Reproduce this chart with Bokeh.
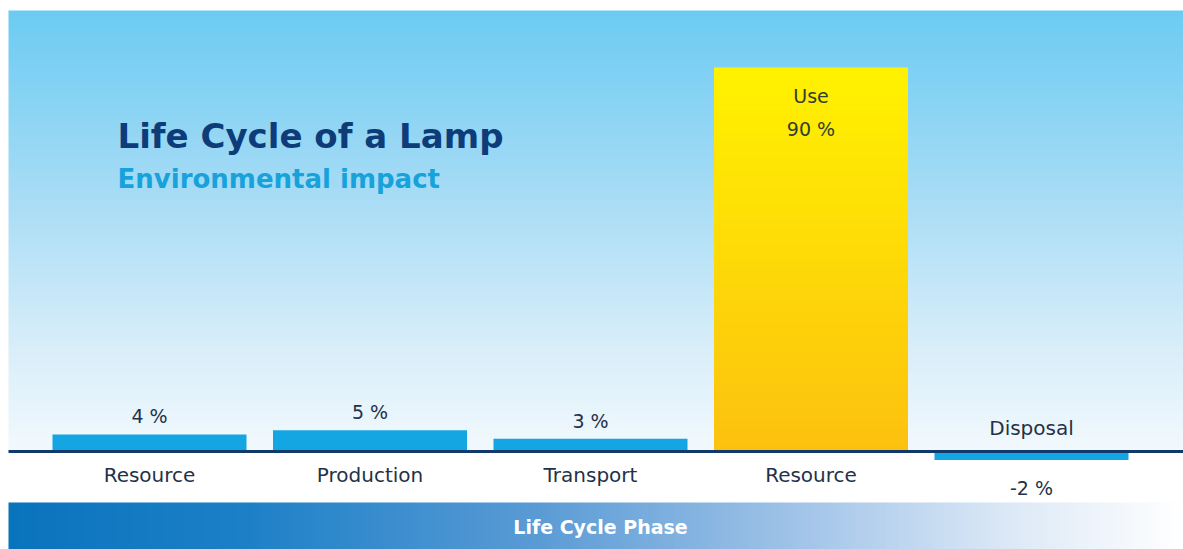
import numpy as np
from bokeh.plotting import figure
from bokeh.models import Label, Range1d
from bokeh.core.properties import value
from bokeh.embed import file_html
from bokeh.resources import INLINE

# ---- data ----
phases = ["Resource", "Production", "Transport", "Use", "Disposal"]
values = [4, 5, 3, 90, -2]
axis_labels = ["Resource", "Production", "Transport", "Resource", "Disposal"]
title_text = "Life Cycle of a Lamp"
subtitle_text = "Environmental impact"
band_text = "Life Cycle Phase"

# ---- geometry ----
W, H = 1183, 549
px_x = 220.5            # px per category
px_y = 384 / 90.0       # px per percent
x0 = -149 / px_x
x1 = x0 + W / px_x
y1 = 451 / px_y
y0 = -(H - 451) / px_y
xl = (8 - 149) / px_x   # left edge of panels

p = figure(width=W, height=H, x_range=Range1d(x0, x1), y_range=Range1d(y0, y1),
           output_backend="svg", toolbar_location=None, min_border=0,
           background_fill_color="white", border_fill_color="white")
p.axis.visible = False
p.grid.visible = False
p.outline_line_color = None


def hex2rgb(c):
    return [int(c[i:i + 2], 16) for i in (1, 3, 5)]


def grad(stops, n):
    ts = np.linspace(0, 1, n)
    st = [s[0] for s in stops]
    cols = np.array([hex2rgb(s[1]) for s in stops], dtype=float)
    out = np.zeros((n, 4), dtype=np.uint8)
    for k in range(3):
        out[:, k] = np.round(np.interp(ts, st, cols[:, k]))
    out[:, 3] = 255
    return out


def vimage(stops, n):          # bottom -> top gradient
    g = grad(stops, n)
    img = np.zeros((n, 2, 4), dtype=np.uint8)
    img[:, 0, :] = g
    img[:, 1, :] = g
    return img.view(dtype=np.uint32).reshape((n, 2))


def himage(stops, n):          # left -> right gradient
    g = grad(stops, n)
    img = np.zeros((2, n, 4), dtype=np.uint8)
    img[0, :, :] = g
    img[1, :, :] = g
    return img.view(dtype=np.uint32).reshape((2, n))


# sky panel
sky_top = (451 - 10) / px_y
sky = vimage([(0.0, "#f2f9fd"), (0.25, "#d6edf9"), (0.6, "#a4dbf5"), (1.0, "#6ccbf3")], 256)
p.image_rgba(image=[sky], x=xl, y=0, dw=x1 - xl, dh=sky_top)

# bottom band
band_top = (451 - 502) / px_y
band = himage([(0.0, "#0a73bd"), (0.2, "#1c80c7"), (0.45, "#5a9bd5"), (0.68, "#a3c5e9"),
               (0.85, "#dbe8f6"), (1.0, "#ffffff")], 256)
p.image_rgba(image=[band], x=xl, y=y0, dw=x1 - xl, dh=band_top - y0)

# bars
bar_w = 194 / px_x
big = max(values)
yellow = vimage([(0.0, "#fcc10f"), (1.0, "#fff200")], 256)
for i, v in enumerate(values):
    if v == big:
        p.image_rgba(image=[yellow], x=i - bar_w / 2, y=0, dw=bar_w, dh=v)
    else:
        p.vbar(x=[i], top=[v], bottom=[0], width=bar_w, fill_color="#14a5e3", line_color=None)

# baseline
p.line(x=[xl, x1], y=[0, 0], line_color="#12396b", line_width=3)

FONT = value("DejaVu Sans")
text_col = "#1f3249"
in_col = "#2f3f33"
for i, (name, v, lab) in enumerate(zip(phases, values, axis_labels)):
    if v == big:
        p.text(x=[i], y=[v], text=[name], text_align="center", text_baseline="top",
               y_offset=17, text_font_size="19px", text_color=in_col, text_font=FONT)
        p.text(x=[i], y=[v], text=["%d %%" % v], text_align="center", text_baseline="top",
               y_offset=50, text_font_size="19px", text_color=in_col, text_font=FONT)
        p.text(x=[i], y=[0], text=[lab], text_align="center", text_baseline="top",
               y_offset=11, text_font_size="20px", text_color=text_col, text_font=FONT)
    elif v >= 0:
        p.text(x=[i], y=[v], text=["%d %%" % v], text_align="center", text_baseline="bottom",
               y_offset=-7, text_font_size="19px", text_color=text_col, text_font=FONT)
        p.text(x=[i], y=[0], text=[lab], text_align="center", text_baseline="top",
               y_offset=11, text_font_size="20px", text_color=text_col, text_font=FONT)
    else:
        p.text(x=[i], y=[0], text=[lab], text_align="center", text_baseline="bottom",
               y_offset=-12, text_font_size="20px", text_color=text_col, text_font=FONT)
        p.text(x=[i], y=[v], text=["%d %%" % v], text_align="center", text_baseline="top",
               y_offset=17, text_font_size="19px", text_color=text_col, text_font=FONT)

p.add_layout(Label(x=117, y=H - 135, x_units="screen", y_units="screen", text=title_text,
                   text_font="DejaVu Sans", text_font_style="bold", text_font_size="34px",
                   text_color="#0d3c78", text_baseline="alphabetic"))
p.add_layout(Label(x=117, y=H - 178, x_units="screen", y_units="screen", text=subtitle_text,
                   text_font="DejaVu Sans", text_font_style="bold", text_font_size="26px",
                   text_color="#17a2dc", text_baseline="alphabetic"))
p.add_layout(Label(x=600, y=23, x_units="screen", y_units="screen", text=band_text,
                   text_font="DejaVu Sans", text_font_style="bold", text_font_size="19px",
                   text_color="white", text_align="center", text_baseline="middle"))

open("out.html", "w").write(file_html(p, INLINE))
